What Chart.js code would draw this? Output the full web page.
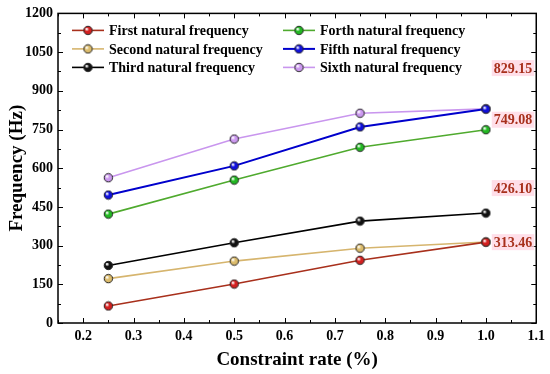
<!DOCTYPE html>
<html>
<head>
<meta charset="utf-8">
<script src="https://cdn.jsdelivr.net/npm/chart.js@4"></script>
<style>
  html, body { margin: 0; padding: 0; background: #fff; }
  #wrap { width: 550px; height: 374px; }
</style>
</head>
<body>
<div id="wrap"><canvas id="freqChart" width="550" height="374"></canvas></div>
<script>
// constraint rate (x) values
const rates = [0.25, 0.5, 0.75, 1.0];
const xTicks = [0.2, 0.3, 0.4, 0.5, 0.6, 0.7, 0.8, 0.9, 1.0, 1.1];
const yTicks = [0, 150, 300, 450, 600, 750, 900, 1050, 1200];

const seriesNames = [
    "First natural frequency", "Second natural frequency", "Third natural frequency",
    "Forth natural frequency", "Fifth natural frequency", "Sixth natural frequency"
];
const first  = [66, 151, 243, 313.46];
const second = [172, 240, 290, 314];
const third  = [223, 311, 395, 426.10];
const fourth = [422, 554, 681, 749.08];
const fifth  = [496, 609, 760, 829.15];
const sixth  = [563, 713, 813, 830];

// value labels shown at the right end
const endLabels = ["829.15", "749.08", "426.10", "313.46"];

const lineColors   = ["#a8301c", "#d6b56e", "#000000", "#4faa2e", "#0000cc", "#c996ee"];
const markerColors = ["#d42020", "#dcbc6c", "#111111", "#22b822", "#1010dd", "#cc99f0"];

// little shaded ball used as point marker
function makeBall(color) {
    const c = document.createElement("canvas");
    c.width = 11; c.height = 11;
    const g = c.getContext("2d");
    const grad = g.createRadialGradient(4, 4, 0.5, 5.5, 5.5, 5);
    grad.addColorStop(0, "#ffffff");
    grad.addColorStop(0.35, color);
    grad.addColorStop(1, color);
    g.beginPath();
    g.arc(5.5, 5.5, 4.2, 0, Math.PI * 2);
    g.fillStyle = grad;
    g.fill();
    g.lineWidth = 1;
    g.strokeStyle = "#222";
    g.stroke();
    return c;
}

const allValues = [first, second, third, fourth, fifth, sixth];
const datasets = allValues.map((vals, i) => ({
    label: seriesNames[i],
    data: vals.map((v, j) => ({ x: rates[j], y: v })),
    borderColor: lineColors[i],
    borderWidth: i === 4 ? 2 : 1.6,
    pointStyle: makeBall(markerColors[i]),
    pointRadius: 5,
    fill: false,
    tension: 0
}));

const serif = "'Liberation Serif', 'DejaVu Serif', serif";

// frame, inward ticks, legend and end labels
const decorPlugin = {
    id: "decor",
    afterDraw(chart) {
        const ctx = chart.ctx;
        const a = chart.chartArea;
        const xs = chart.scales.x, ys = chart.scales.y;
        ctx.save();
        ctx.strokeStyle = "#000";
        ctx.lineWidth = 1.5;
        ctx.strokeRect(a.left, a.top, a.right - a.left, a.bottom - a.top);

        ctx.lineWidth = 1;
        ctx.beginPath();
        for (let v = 0.15; v <= 1.1001; v += 0.05) {
            const px = Math.round(xs.getPixelForValue(v)) + 0.5;
            const major = Math.abs(v * 10 - Math.round(v * 10)) < 0.01;
            const len = major ? 5 : 3;
            ctx.moveTo(px, a.bottom); ctx.lineTo(px, a.bottom - len);
            ctx.moveTo(px, a.top); ctx.lineTo(px, a.top + len);
        }
        for (let v = 0; v <= 1200; v += 75) {
            const py = Math.round(ys.getPixelForValue(v)) + 0.5;
            const len = v % 150 === 0 ? 5 : 3;
            ctx.moveTo(a.left, py); ctx.lineTo(a.left + len, py);
            ctx.moveTo(a.right, py); ctx.lineTo(a.right - len, py);
        }
        ctx.stroke();

        // legend, two columns
        ctx.font = "bold 14px " + serif;
        ctx.textBaseline = "middle";
        chart.data.datasets.forEach((ds, i) => {
            const col = Math.floor(i / 3), row = i % 3;
            const x0 = a.left + 14 + col * 211;
            const y0 = a.top + 17 + row * 18.5;
            ctx.strokeStyle = ds.borderColor;
            ctx.lineWidth = ds.borderWidth;
            ctx.beginPath();
            ctx.moveTo(x0, y0); ctx.lineTo(x0 + 32, y0);
            ctx.stroke();
            ctx.drawImage(ds.pointStyle, x0 + 16 - 5.5, y0 - 5.5);
            ctx.fillStyle = "#000";
            ctx.textAlign = "left";
            ctx.fillText(ds.label, x0 + 37, y0 + 1);
        });

        // end value labels
        const labelOffsets = [-41, -10, -25, 0];
        const labelSeries = [fifth, fourth, third, first];
        ctx.font = "bold 14px " + serif;
        ctx.textAlign = "right";
        endLabels.forEach((t, i) => {
            const vals = labelSeries[i];
            const py = ys.getPixelForValue(vals[vals.length - 1]) + labelOffsets[i];
            const w = ctx.measureText(t).width;
            ctx.fillStyle = "rgba(255, 215, 228, 0.8)";
            ctx.fillRect(a.right - 4 - w - 2, py - 8, w + 4, 16);
            ctx.fillStyle = "#a8301c";
            ctx.fillText(t, a.right - 4, py + 1);
        });
        ctx.restore();
    }
};

new Chart(document.getElementById("freqChart"), {
    type: "line",
    data: { datasets: datasets },
    options: {
        responsive: false,
        animation: false,
        layout: { padding: { top: 11, right: 13, left: 0, bottom: 0 } },
        plugins: { legend: { display: false }, tooltip: { enabled: false } },
        scales: {
            x: {
                type: "linear",
                min: 0.15,
                max: 1.1,
                afterBuildTicks: s => { s.ticks = xTicks.map(v => ({ value: v })); },
                afterFit: s => { s.height = 51; },
                grid: { display: false, drawTicks: false },
                border: { display: false },
                ticks: {
                    color: "#000",
                    padding: 5,
                    font: { family: serif, size: 14, weight: "bold" },
                    callback: v => v.toFixed(1)
                },
                title: {
                    display: true,
                    text: "Constraint rate (%)",
                    color: "#000",
                    font: { family: serif, size: 19, weight: "bold" },
                    padding: { top: 0, bottom: 3 }
                }
            },
            y: {
                min: 0,
                max: 1200,
                afterBuildTicks: s => { s.ticks = yTicks.map(v => ({ value: v })); },
                afterFit: s => { s.width = 58; },
                grid: { display: false, drawTicks: false },
                border: { display: false },
                ticks: {
                    color: "#000",
                    padding: 5,
                    font: { family: serif, size: 14, weight: "bold" },
                    callback: v => String(v)
                },
                title: {
                    display: true,
                    text: "Frequency (Hz)",
                    color: "#000",
                    font: { family: serif, size: 19, weight: "bold" },
                    padding: { top: 6, bottom: 0 }
                }
            }
        }
    },
    plugins: [decorPlugin]
});
</script>
</body>
</html>
